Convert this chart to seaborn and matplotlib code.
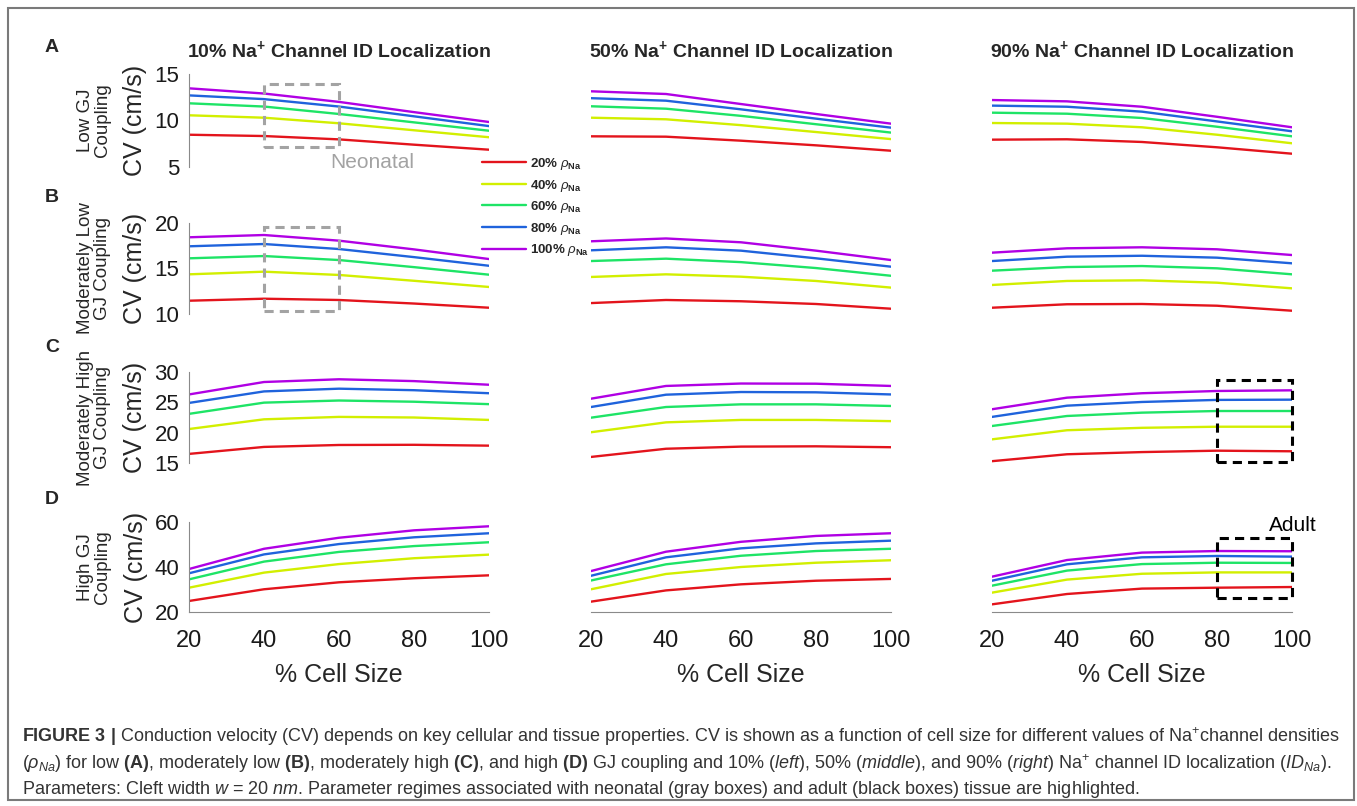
import numpy as np
import pandas as pd
import matplotlib
matplotlib.use("Agg")
import matplotlib.pyplot as plt
import seaborn as sns
from matplotlib.patches import Rectangle
from matplotlib.lines import Line2D

sns.set_style("white")
plt.rcParams["font.family"] = ["Liberation Sans", "DejaVu Sans"]
plt.rcParams["mathtext.fontset"] = "custom"
plt.rcParams["mathtext.rm"] = "Liberation Sans"
plt.rcParams["mathtext.it"] = "Liberation Sans:italic"
plt.rcParams["mathtext.bf"] = "Liberation Sans:bold"

# x values and series
cell_size = [20, 40, 60, 80, 100]
densities = ["20%", "40%", "60%", "80%", "100%"]
colors = ["#e3141c", "#d2ef00", "#1ee466", "#1f63dc", "#b000e4"]

# rows: low, mod. low, mod. high, high GJ coupling; order red..purple
cv_low_10 = [[8.47, 8.33, 7.97, 7.40, 6.86], [10.56, 10.30, 9.70, 8.95, 8.20],
             [11.85, 11.50, 10.70, 9.80, 8.90], [12.70, 12.30, 11.50, 10.45, 9.40],
             [13.46, 12.90, 12.00, 10.90, 9.84]]
cv_modlow_10 = [[11.46, 11.68, 11.54, 11.15, 10.69], [14.36, 14.65, 14.29, 13.65, 12.97],
                [16.12, 16.37, 15.93, 15.15, 14.32], [17.44, 17.69, 17.14, 16.25, 15.30],
                [18.43, 18.68, 18.06, 17.10, 16.04]]
cv_modhigh_10 = [[16.5, 17.65, 17.97, 18.0, 17.86], [20.6, 22.2, 22.6, 22.5, 22.1],
                 [23.1, 24.95, 25.3, 25.1, 24.7], [24.9, 26.8, 27.25, 27.0, 26.5],
                 [26.3, 28.35, 28.8, 28.5, 27.9]]
cv_high_10 = [[24.9, 30.1, 33.2, 35.0, 36.3], [30.8, 37.5, 41.3, 43.9, 45.5],
              [34.5, 42.4, 46.7, 49.3, 51.0], [37.2, 45.6, 50.2, 53.2, 55.0],
              [39.1, 48.1, 53.0, 56.3, 58.1]]

cv_low_50 = [[8.30, 8.26, 7.83, 7.33, 6.75], [10.30, 10.13, 9.50, 8.76, 8.00],
             [11.53, 11.27, 10.50, 9.60, 8.70], [12.40, 12.13, 11.20, 10.20, 9.23],
             [13.14, 12.85, 11.77, 10.70, 9.66]]
cv_modlow_50 = [[11.20, 11.54, 11.40, 11.10, 10.58], [14.07, 14.36, 14.10, 13.63, 12.90],
                [15.82, 16.08, 15.70, 15.05, 14.20], [17.00, 17.33, 16.96, 16.12, 15.20],
                [17.99, 18.30, 17.88, 16.96, 15.93]]
cv_modhigh_50 = [[16.0, 17.35, 17.7, 17.75, 17.6], [20.07, 21.7, 22.1, 22.1, 21.9],
                 [22.47, 24.23, 24.67, 24.67, 24.4], [24.23, 26.26, 26.7, 26.65, 26.3],
                 [25.6, 27.7, 28.1, 28.07, 27.7]]
cv_high_50 = [[24.6, 29.6, 32.3, 33.9, 34.7], [30.1, 36.9, 40.0, 41.9, 43.0],
              [34.0, 41.2, 45.0, 47.1, 48.1], [36.1, 44.3, 48.3, 50.5, 51.7],
              [38.2, 46.8, 51.2, 53.8, 55.0]]

cv_low_90 = [[7.94, 7.98, 7.69, 7.12, 6.43], [9.73, 9.66, 9.27, 8.47, 7.55],
             [10.84, 10.73, 10.27, 9.33, 8.30], [11.60, 11.48, 10.95, 9.90, 8.84],
             [12.20, 12.06, 11.48, 10.40, 9.27]]
cv_modlow_90 = [[10.69, 11.07, 11.10, 10.91, 10.36], [13.19, 13.63, 13.70, 13.44, 12.82],
                [14.76, 15.16, 15.27, 15.02, 14.36], [15.82, 16.30, 16.40, 16.19, 15.57],
                [16.74, 17.22, 17.33, 17.11, 16.48]]
cv_modhigh_90 = [[15.3, 16.44, 16.8, 17.03, 16.93], [18.9, 20.4, 20.8, 20.98, 20.98],
                 [21.1, 22.75, 23.3, 23.57, 23.57], [22.6, 24.45, 25.06, 25.4, 25.44],
                 [23.86, 25.77, 26.5, 26.87, 26.98]]
cv_high_90 = [[23.4, 28.0, 30.4, 30.8, 31.1], [28.6, 34.4, 37.0, 37.6, 37.6],
              [31.7, 38.4, 41.3, 41.9, 41.8], [33.9, 41.2, 44.3, 44.9, 44.6],
              [35.7, 43.1, 46.4, 47.1, 47.0]]

panels = [[cv_low_10, cv_low_50, cv_low_90],
          [cv_modlow_10, cv_modlow_50, cv_modlow_90],
          [cv_modhigh_10, cv_modhigh_50, cv_modhigh_90],
          [cv_high_10, cv_high_50, cv_high_90]]

col_titles = ["10%", "50%", "90%"]
row_letters = ["A", "B", "C", "D"]
row_labels = ["Low GJ\nCoupling", "Moderately Low\nGJ Coupling",
              "Moderately High\nGJ Coupling", "High GJ\nCoupling"]
ylims = [(5, 15), (10, 20), (15, 30), (20, 60)]
yticks = [[5, 10, 15], [10, 15, 20], [15, 20, 25, 30], [20, 40, 60]]

W, H = 1357, 806
fig = plt.figure(figsize=(W / 100, H / 100), dpi=100)

col_left = [189, 591, 992]
col_w = 300
row_top = [74, 223, 372, 522]
row_bot = [167, 314, 463, 612]
spine_gray = "#8a8a8a"

axes = [[None] * 3 for _ in range(4)]
for r in range(4):
    for c in range(3):
        ax = fig.add_axes([col_left[c] / W, 1 - row_bot[r] / H, col_w / W,
                           (row_bot[r] - row_top[r]) / H])
        axes[r][c] = ax
        rows = []
        for k, dens in enumerate(densities):
            for x, v in zip(cell_size, panels[r][c][k]):
                rows.append({"size": x, "cv": v, "density": dens})
        df = pd.DataFrame(rows)
        sns.lineplot(data=df, x="size", y="cv", hue="density", palette=colors,
                     hue_order=densities, ax=ax, legend=False, linewidth=1.7)
        ax.set_xlim(20, 100)
        ax.set_ylim(*ylims[r])
        ax.set_facecolor("none")
        ax.set_xlabel("")
        ax.set_ylabel("")
        for s in ["top", "right"]:
            ax.spines[s].set_visible(False)
        ax.spines["left"].set_color(spine_gray)
        ax.spines["bottom"].set_color(spine_gray)
        ax.tick_params(colors=spine_gray, labelcolor="#1a1a1a", length=3,
                       width=1, direction="out")
        if c == 0:
            ax.set_yticks(yticks[r])
            ax.tick_params(axis="y", labelsize=16, pad=4)
            ax.set_ylabel("CV (cm/s)", fontsize=18, labelpad=5)
        else:
            ax.spines["left"].set_visible(False)
            ax.set_yticks([])
        if r == 3:
            ax.set_xticks(cell_size)
            ax.tick_params(axis="x", labelsize=17, pad=10)
            ax.set_xlabel("% Cell Size", fontsize=18, labelpad=8)
        else:
            ax.spines["bottom"].set_visible(False)
            ax.set_xticks([])
        if r == 0:
            ax.set_title(col_titles[c] + r" Na$^{\mathbf{+}}$ Channel ID Localization",
                         fontsize=14, fontweight="bold", pad=12)

    # row labels and letters
    yc = 1 - (row_top[r] + row_bot[r]) / 2 / H
    fig.text(94 / W, yc, row_labels[r], rotation=90, ha="center", va="center",
             multialignment="center", fontsize=13.5, linespacing=1.0)
    fig.text(52 / W, 1 - [47, 198, 347, 500][r] / H, row_letters[r],
             fontsize=14, fontweight="bold", ha="center", va="center")

# highlight boxes
neo_kw = dict(fill=False, ec="#a3a3a3", lw=2.2, ls=(0, (3, 2)), clip_on=False, zorder=5)
axes[0][0].add_patch(Rectangle((40, 7.2), 20, 6.7, **neo_kw))
axes[1][0].add_patch(Rectangle((40, 10.3), 20, 9.3, **neo_kw))
axes[0][0].text(69, 5.45, "Neonatal", color="#a3a3a3", fontsize=15,
                ha="center", va="center")
adult_kw = dict(fill=False, ec="black", lw=2.2, ls=(0, (3, 2)), clip_on=False, zorder=5)
axes[2][2].add_patch(Rectangle((80, 15.2), 20, 13.4, **adult_kw))
axes[3][2].add_patch(Rectangle((80, 26.1), 20, 26.6, **adult_kw))
axes[3][2].text(100.3, 58.4, "Adult", color="black", fontsize=15,
                ha="center", va="center")

# legend
handles = [Line2D([], [], color=col, lw=1.7) for col in colors]
labels = [d + r" $\rho_{\mathbf{Na}}$" for d in densities]
fig.legend(handles, labels, loc="upper left", bbox_to_anchor=(482 / W, 1 - 156 / H),
           frameon=False, prop={"weight": "bold", "size": 9.5}, handlelength=3.3,
           handletextpad=0.3, labelspacing=0.42, borderpad=0, borderaxespad=0)

# caption
cap1 = (r"$\mathbf{FIGURE\ 3\ |}$ Conduction velocity (CV) depends on key cellular and tissue "
        r"properties. CV is shown as a function of cell size for different values of "
        r"Na$^{+}$channel densities")
cap2 = (r"($\rho_{Na}$) for low $\mathbf{(A)}$, moderately low $\mathbf{(B)}$, moderately high "
        r"$\mathbf{(C)}$, and high $\mathbf{(D)}$ GJ coupling and 10% ($\mathit{left}$), "
        r"50% ($\mathit{middle}$), and 90% ($\mathit{right}$) Na$^{+}$ channel ID "
        r"localization ($ID_{Na}$).")
cap3 = (r"Parameters: Cleft width $w$ = 20 $\mathit{nm}$. Parameter regimes associated with "
        r"neonatal (gray boxes) and adult (black boxes) tissue are highlighted.")
for yy, txt in zip([737, 764, 790], [cap1, cap2, cap3]):
    fig.text(22 / W, 1 - yy / H, txt, fontsize=13, color="#333333",
             ha="left", va="center")

# figure frame
fig.add_artist(Rectangle((8 / W, 1 - 800 / H), (1354 - 8) / W, (800 - 8) / H,
                         transform=fig.transFigure, fill=False, ec="#7a7a7a", lw=1.5))

fig.savefig("out.png", dpi=100)
plt.close(fig)
